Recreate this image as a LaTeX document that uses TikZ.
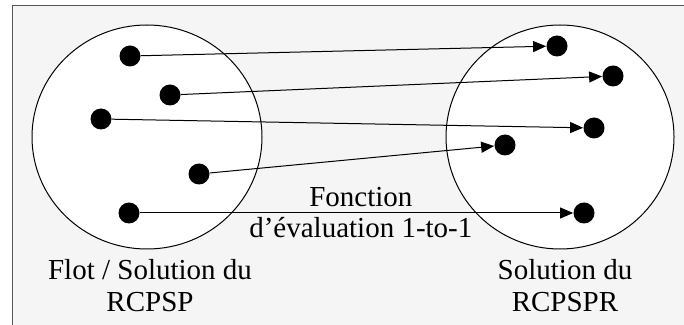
\documentclass[tikz,border=0pt]{standalone}
\usepackage{fontspec}
\setmainfont{Liberation Serif}
\usepackage{xcolor}
\usepackage{tikz}
\usetikzlibrary{arrows.meta,positioning}
\definecolor{cadregris}{HTML}{555555}
\definecolor{fondgris}{HTML}{F5F5F5}

\begin{document}
\begin{tikzpicture}[
    x=0.5pt,y=-0.5pt,
    ens/.style  = {draw=black,fill=white,line width=0.5pt},
    pt/.style   = {circle,fill=black,inner sep=0pt,minimum size=10.5pt},
    fl/.style   = {-{Triangle[length=6.5pt,width=5.5pt]},line width=0.5pt},
    et/.style   = {font=\fontsize{14.5}{16}\selectfont,align=center},
  ]
  \useasboundingbox (0,0) rectangle (684,325);

  % Cadre et fond
  \fill[white] (0,0) rectangle (684,325);
  \fill[fondgris] (12.5,5.5) rectangle (684,325);
  \draw[cadregris,line width=0.9pt] (12.5,325) -- (12.5,5.5) -- (684,5.5);

  % Ensembles
  \draw[ens] (147,137) ellipse [x radius=115,y radius=112];
  \draw[ens] (560,137) ellipse [x radius=114,y radius=112];

  % Points de départ
  \node[pt] (l1) at (130,56)  {};
  \node[pt] (l2) at (170,95)  {};
  \node[pt] (l3) at (101,119) {};
  \node[pt] (l4) at (199,174) {};
  \node[pt] (l5) at (129,213) {};

  % Points d'arrivée
  \node[pt] (r1) at (557,46)  {};
  \node[pt] (r2) at (613,76)  {};
  \node[pt] (r3) at (594,128) {};
  \node[pt] (r4) at (505,145) {};
  \node[pt] (r5) at (584,213) {};

  % Correspondances
  \draw[fl] (l1) -- (r1);
  \draw[fl] (l2) -- (r2);
  \draw[fl] (l3) -- (r3);
  \draw[fl] (l4) -- (r4);
  \draw[fl] (l5) -- (r5)
    node[et,pos=0.51,above,inner sep=3pt] (fonc) {Fonction}
    node[et,pos=0.51,below,inner sep=2pt] (eval) {d’évaluation 1-to-1};

  % Légendes
  \node[et] (legg) at (150,286) {Flot / Solution du\\RCPSP};
  \node[et] (legd) at (565,286) {Solution du\\RCPSPR};

\end{tikzpicture}
\end{document}
